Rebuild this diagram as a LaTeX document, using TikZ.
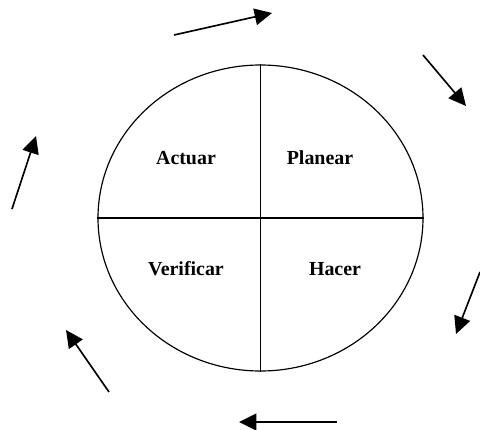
\documentclass[tikz,border=0pt]{standalone}
\usepackage{fontspec}
\setmainfont{Liberation Serif}
\usetikzlibrary{positioning,arrows.meta,shapes.geometric}
\tikzset{
  pdcaborde/.style={draw=black, line width=1pt},
  pdcaseta/.style={-{Triangle[length=5.2mm, width=5mm]}, line width=1.4pt, draw=black},
  pdcarotulo/.style={font=\fontsize{17}{20}\selectfont\bfseries, inner sep=0pt},
}

\begin{document}
\begin{tikzpicture}[x=0.3mm, y=-0.3mm]
        \useasboundingbox (0,0) rectangle (480,430);
        % ---------------- ciclo ----------------
        \node[pdcaborde, ellipse, minimum width=97.5mm, minimum height=91.8mm, inner sep=0pt] (ciclo) at (260.5,218) {};
        \draw[pdcaborde] (ciclo.north) -- (ciclo.south);
        \draw[pdcaborde] (ciclo.west) -- (ciclo.east);
        % ---------------- fases ----------------
        \node[pdcarotulo] (actuar) at (186,158) {Actuar};
        \node[pdcarotulo] (planear) at (320,158) {Planear};
        \node[pdcarotulo] (verificar) at (186,269) {Verificar};
        \node[pdcarotulo] (hacer) at (335,269) {Hacer};
        % ---------------- flechas ----------------
        \coordinate (f1a) at (174,35);  \coordinate (f1b) at (272,13);
        \coordinate (f2a) at (423,55);  \coordinate (f2b) at (466,106);
        \coordinate (f3a) at (480,272); \coordinate (f3b) at (456,334);
        \coordinate (f4a) at (337,422); \coordinate (f4b) at (239,422);
        \coordinate (f5a) at (109,392); \coordinate (f5b) at (66,330);
        \coordinate (f6a) at (12,209);  \coordinate (f6b) at (36,136);
        \draw[pdcaseta] (f1a) -- (f1b);
        \draw[pdcaseta] (f2a) -- (f2b);
        \draw[pdcaseta] (f3a) -- (f3b);
        \draw[pdcaseta] (f4a) -- (f4b);
        \draw[pdcaseta] (f5a) -- (f5b);
        \draw[pdcaseta] (f6a) -- (f6b);
    \end{tikzpicture}
\end{document}
